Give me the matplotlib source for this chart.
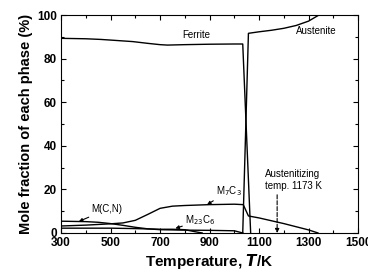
import matplotlib.pyplot as plt

plt.rcParams['font.family'] = ['Liberation Sans', 'DejaVu Sans']

# Phase fractions (T in K, mole %)
ferrite_T = [300, 400, 460, 500, 590, 650, 700, 730, 800, 900, 1000, 1034, 1066]
ferrite_v = [89.3, 89.1, 88.8, 88.5, 87.8, 87.0, 86.4, 86.2, 86.4, 86.6, 86.7, 86.7, 0]

austenite_T = [1034, 1057, 1100, 1150, 1200, 1250, 1300, 1342]
austenite_v = [0, 91.6, 92.3, 93.0, 93.9, 95.2, 97.2, 100]

m7c3_T = [300, 400, 500, 550, 600, 650, 700, 750, 800, 900, 1000, 1036, 1057, 1100, 1200, 1300, 1338]
m7c3_v = [3.2, 3.6, 4.2, 4.6, 5.8, 8.5, 11.3, 12.3, 12.6, 13.0, 13.2, 13.0, 7.8, 6.9, 4.3, 1.4, 0]

mcn_T = [300, 400, 450, 500, 550, 600, 650, 700, 800, 900, 1000, 1034]
mcn_v = [5.4, 5.2, 4.9, 4.3, 3.5, 2.6, 1.9, 1.5, 1.3, 1.2, 1.0, 0]

m23c6_T = [300, 400, 500, 600, 700, 750, 800, 840, 870]
m23c6_v = [2.2, 2.2, 2.2, 2.0, 1.7, 1.7, 1.5, 0.6, 0]

x_ticks = [300, 500, 700, 900, 1100, 1300, 1500]
x_minor = [400, 600, 800, 1000, 1200, 1400]
y_ticks = [0, 20, 40, 60, 80, 100]
y_minor = [10, 30, 50, 70, 90]

fig = plt.figure(figsize=(3.68, 2.78), dpi=100)
ax = fig.add_axes([0.166, 0.162, 0.807, 0.784])

for T, v in [(ferrite_T, ferrite_v), (austenite_T, austenite_v),
             (m7c3_T, m7c3_v), (mcn_T, mcn_v), (m23c6_T, m23c6_v)]:
    ax.plot(T, v, color='black', lw=1.0)

ax.set_xlim(300, 1500)
ax.set_ylim(0, 100)
ax.set_xticks(x_ticks)
ax.set_xticks(x_minor, minor=True)
ax.set_yticks(y_ticks)
ax.set_yticks(y_minor, minor=True)
ax.tick_params(which='both', direction='in', top=True, right=True, width=0.8)
ax.tick_params(which='major', length=3.5, labelsize=8.5, pad=3)
ax.tick_params(which='minor', length=2)
for lab in ax.get_xticklabels() + ax.get_yticklabels():
    lab.set_fontweight('bold')
for s in ax.spines.values():
    s.set_linewidth(0.8)

ax.set_xlabel('Temperature, $\\boldsymbol{T}$/K', fontsize=11, fontweight='bold', labelpad=2)
ax.set_ylabel('Mole fraction of each phase (%)', fontsize=10.5, fontweight='bold', labelpad=3)

# labels
arrow = dict(arrowstyle='-|>', color='black', lw=0.8, mutation_scale=5,
             shrinkA=0, shrinkB=0)
ax.text(845, 90.8, 'Ferrite', fontsize=7, ha='center', va='center')
ax.text(1330, 92.8, 'Austenite', fontsize=7, ha='center', va='center')
ax.annotate('M(C,N)', xy=(372, 5.3), xytext=(485, 10.8), fontsize=7,
            ha='center', va='center', arrowprops=arrow)
ax.annotate('M$_7$C$_3$', xy=(890, 13.0), xytext=(978, 19.2), fontsize=7,
            ha='center', va='center', arrowprops=arrow)
ax.annotate('M$_{23}$C$_6$', xy=(762, 2.1), xytext=(862, 5.8), fontsize=7,
            ha='center', va='center', arrowprops=arrow)
ax.text(1124, 24.3, 'Austenitizing\ntemp. 1173 K', fontsize=7, ha='left',
        va='center', linespacing=1.2)
ax.annotate('', xy=(1173, 0), xytext=(1173, 17.5),
            arrowprops=dict(arrowstyle='-|>', color='black', lw=0.8,
                            linestyle='--', mutation_scale=6, shrinkA=0, shrinkB=0))

fig.savefig('out.png', dpi=100)
